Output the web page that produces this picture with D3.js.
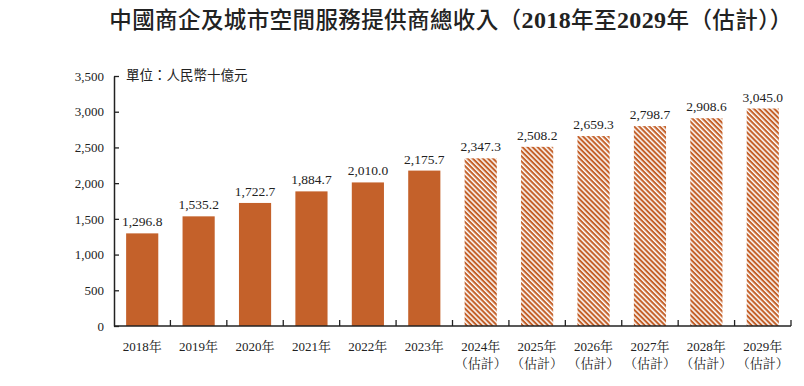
<!DOCTYPE html>
<html><head><meta charset="utf-8">
<script src="https://cdn.jsdelivr.net/npm/d3@7"></script>
<style>body{margin:0;background:#fff;} svg{display:block;}</style>
</head><body>
<svg id="c" width="804" height="386"></svg>
<script>
const years = ["2018年","2019年","2020年","2021年","2022年","2023年","2024年","2025年","2026年","2027年","2028年","2029年"];
const estimated = [false,false,false,false,false,false,true,true,true,true,true,true];
const values = [1296.8,1535.2,1722.7,1884.7,2010.0,2175.7,2347.3,2508.2,2659.3,2798.7,2908.6,3045.0];
const yTicks = [0,500,1000,1500,2000,2500,3000,3500];
const titleParts = [["中國商企及城市空間服務提供商總收入（",false],["2018",true],["年至",false],["2029",true],["年（估計））",false]];
const unit = "單位：人民幣十億元";

const color = "#C4612A";
const svg = d3.select("#c");
const serif = "'Liberation Serif','Noto Serif CJK TC','Noto Sans CJK TC',serif";
const cjk = "'Noto Sans CJK TC',sans-serif";
const m = {left:114, right:13, top:76, bottom:60};
const W = 804, H = 386;
const x = d3.scaleBand().domain(years).range([m.left, W - m.right]).paddingInner(0.43).paddingOuter(0.215);
const y = d3.scaleLinear().domain([0,3500]).range([H - m.bottom, m.top]);

const defs = svg.append("defs");
const pat = defs.append("pattern").attr("id","hatch").attr("patternUnits","userSpaceOnUse")
  .attr("width",3.6).attr("height",3.6).attr("patternTransform","rotate(45)");
pat.append("rect").attr("width",3.6).attr("height",3.6).attr("fill","#fff");
pat.append("rect").attr("x",0).attr("y",0).attr("width",3.6).attr("height",2.1).attr("fill",color);

// title
const tt = svg.append("text").attr("x",451).attr("y",28).attr("text-anchor","middle")
  .attr("font-size",22.5).attr("letter-spacing",0.4).attr("fill","#222");
titleParts.forEach(([s,num]) => {
  tt.append("tspan").attr("font-family", num ? "'Liberation Serif',serif" : cjk)
    .attr("font-weight", num ? 700 : 500).attr("font-size", num ? 24 : 22.5).text(s);
});

// bars
svg.selectAll("rect.bar").data(values).join("rect").attr("class","bar")
  .attr("x",(d,i)=>x(years[i])).attr("width",x.bandwidth())
  .attr("y",d=>y(d)).attr("height",d=>y(0)-y(d))
  .attr("fill",(d,i)=>estimated[i]?"url(#hatch)":color);

// value labels
svg.selectAll("text.val").data(values).join("text").attr("class","val")
  .attr("x",(d,i)=>x(years[i])+x.bandwidth()/2).attr("y",d=>y(d)-7)
  .attr("text-anchor","middle").attr("font-family",serif).attr("font-size",13.5).attr("fill","#222")
  .text(d=>d3.format(",.1f")(d));

// y axis
const yAxis = d3.axisLeft(y).tickValues(yTicks).tickFormat(d3.format(",")).tickSizeInner(-5).tickSizeOuter(0).tickPadding(10);
const gy = svg.append("g").attr("transform",`translate(${m.left},0)`).call(yAxis);
gy.select(".domain").attr("stroke","#222").attr("stroke-width",1.5);
gy.selectAll(".tick line").attr("stroke","#222").attr("stroke-width",1.3);
gy.selectAll(".tick text").attr("font-family",serif).attr("font-size",13).attr("fill","#222");

// x axis
const gx = svg.append("g").attr("transform",`translate(0,${y(0)})`);
gx.append("line").attr("x1",m.left).attr("x2",W-m.right).attr("stroke","#222").attr("stroke-width",1.5);
svg.append("g").selectAll("line").data(years).join("line")
  .attr("x1",(d,i)=> m.left + (i+1)*(W-m.right-m.left)/years.length)
  .attr("x2",(d,i)=> m.left + (i+1)*(W-m.right-m.left)/years.length)
  .attr("y1",y(0)).attr("y2",y(0)-6).attr("stroke","#222").attr("stroke-width",1.3);

const xl = svg.append("g").selectAll("text").data(years).join("text")
  .attr("x",d=>x(d)+x.bandwidth()/2).attr("y",y(0)+25)
  .attr("text-anchor","middle").attr("font-family",serif).attr("font-size",13).attr("fill","#222");
xl.append("tspan").attr("x",d=>x(d)+x.bandwidth()/2).text(d=>d);
xl.filter((d,i)=>estimated[i]).append("tspan").attr("x",d=>x(d)+x.bandwidth()/2).attr("dy",17).text("（估計）");

// unit
svg.append("text").attr("x",126).attr("y",80).attr("font-family",cjk)
  .attr("font-size",13.5).attr("font-weight",400).attr("fill","#222").text(unit);
</script>
</body></html>
